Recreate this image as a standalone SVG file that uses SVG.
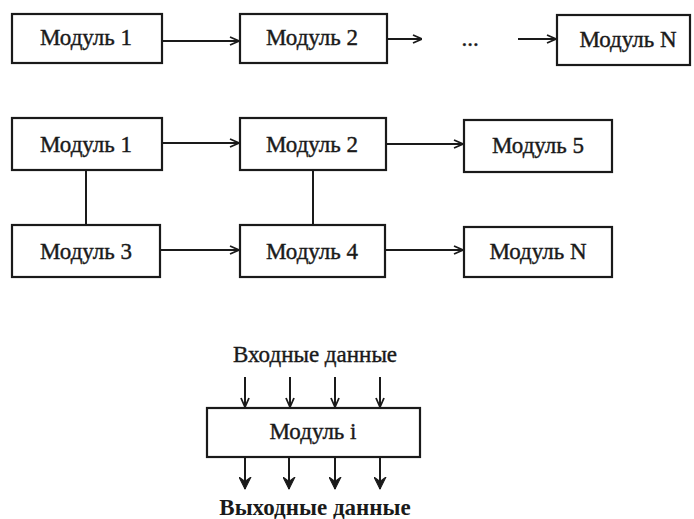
<svg xmlns="http://www.w3.org/2000/svg" width="694" height="519" viewBox="0 0 694 519">
<defs>
<style>
.box{fill:#fff;stroke:#1a1a1a;stroke-width:2.2}
.lbl{font-family:"Liberation Serif","Times New Roman",serif;font-size:23px;fill:#1a1a1a;stroke:#1a1a1a;stroke-width:0.4;text-anchor:middle}
.cap{font-family:"Liberation Serif","Times New Roman",serif;font-size:23px;fill:#1a1a1a;stroke:#1a1a1a;stroke-width:0.4;text-anchor:middle}
.capb{font-family:"Liberation Serif","Times New Roman",serif;font-size:23px;font-weight:bold;fill:#1a1a1a;text-anchor:middle}
.ln{fill:none;stroke:#1a1a1a;stroke-width:2}
</style>
<marker id="ah" viewBox="0 0 10 10" refX="10" refY="5" markerWidth="10" markerHeight="10" markerUnits="userSpaceOnUse" orient="auto">
<path d="M1,1 L10,5 L1,9" fill="none" stroke="#1a1a1a" stroke-width="1.8"/>
</marker>
<marker id="ah2" viewBox="0 0 12 12" refX="11" refY="6" markerWidth="13" markerHeight="13" markerUnits="userSpaceOnUse" orient="auto">
<path d="M0,0.5 L11,6 L0,11.5 L4,6 Z" fill="#1a1a1a" stroke="#1a1a1a" stroke-width="1" stroke-linejoin="round"/>
</marker>
</defs>
<rect width="694" height="519" fill="#fff"/>
<g id="connectors">
<line class="ln" x1="162" y1="41" x2="239" y2="41" marker-end="url(#ah)"/>
<line class="ln" x1="387" y1="39" x2="422" y2="39" marker-end="url(#ah)"/>
<line class="ln" x1="518" y1="39" x2="556" y2="39" marker-end="url(#ah)"/>
<line class="ln" x1="162" y1="143" x2="239" y2="143" marker-end="url(#ah)"/>
<line class="ln" x1="386" y1="144" x2="463" y2="144" marker-end="url(#ah)"/>
<line class="ln" x1="160" y1="250" x2="239" y2="250" marker-end="url(#ah)"/>
<line class="ln" x1="385" y1="250" x2="463" y2="250" marker-end="url(#ah)"/>
<line class="ln" x1="86" y1="170" x2="86" y2="225"/>
<line class="ln" x1="313" y1="170" x2="313" y2="225"/>
<line class="ln" x1="245" y1="377" x2="245" y2="407" marker-end="url(#ah)"/>
<line class="ln" x1="290" y1="377" x2="290" y2="407" marker-end="url(#ah)"/>
<line class="ln" x1="335" y1="377" x2="335" y2="407" marker-end="url(#ah)"/>
<line class="ln" x1="380" y1="377" x2="380" y2="407" marker-end="url(#ah)"/>
<line class="ln" x1="245" y1="457" x2="245" y2="489" marker-end="url(#ah2)"/>
<line class="ln" x1="289" y1="457" x2="289" y2="489" marker-end="url(#ah2)"/>
<line class="ln" x1="335" y1="457" x2="335" y2="489" marker-end="url(#ah2)"/>
<line class="ln" x1="380" y1="457" x2="380" y2="489" marker-end="url(#ah2)"/>
</g>
<g id="r1m1"><rect class="box" x="12" y="14" width="150" height="49"/><text class="lbl" x="86" y="45">Модуль 1</text></g>
<g id="r1m2"><rect class="box" x="240" y="14" width="147" height="49"/><text class="lbl" x="312" y="45">Модуль 2</text></g>
<g id="dots"><text class="lbl" x="470" y="46">...</text></g>
<g id="r1mN"><rect class="box" x="557" y="15" width="133" height="50"/><text class="lbl" x="628" y="47">Модуль N</text></g>
<g id="r2m1"><rect class="box" x="12" y="118" width="150" height="52"/><text class="lbl" x="86" y="152">Модуль 1</text></g>
<g id="r2m2"><rect class="box" x="240" y="118" width="146" height="52"/><text class="lbl" x="312" y="152">Модуль 2</text></g>
<g id="r2m5"><rect class="box" x="464" y="120" width="148" height="52"/><text class="lbl" x="538" y="153">Модуль 5</text></g>
<g id="r2m3"><rect class="box" x="12" y="225" width="148" height="52"/><text class="lbl" x="86" y="259">Модуль 3</text></g>
<g id="r2m4"><rect class="box" x="240" y="225" width="145" height="52"/><text class="lbl" x="312" y="259">Модуль 4</text></g>
<g id="r2mN"><rect class="box" x="464" y="227" width="148" height="50"/><text class="lbl" x="538" y="259">Модуль N</text></g>
<g id="mi"><rect class="box" x="207" y="408" width="213" height="49"/><text class="lbl" x="313" y="439">Модуль i</text></g>
<g id="in"><text class="cap" x="315" y="362">Входные данные</text></g>
<g id="out"><text class="capb" x="315" y="515">Выходные данные</text></g>
</svg>
